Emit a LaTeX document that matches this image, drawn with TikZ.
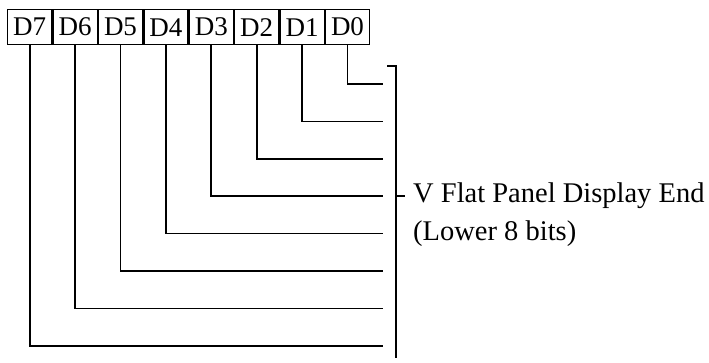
\documentclass[tikz,border=0pt]{standalone}
\usepackage{fontspec}
\setmainfont{Liberation Serif}
\usetikzlibrary{positioning}

\begin{document}
\begin{tikzpicture}[
    x=1pt, y=-1pt,
    bitbox/.style={draw, line width=1.3pt, minimum width=44.1pt, minimum height=35pt, inner sep=0, font=\fontsize{27}{30}\selectfont},
    wire/.style={line width=1.7pt},
    every node/.style={font=\fontsize{28.5}{32}\selectfont}
]
  \useasboundingbox (0,0) rectangle (709,363);

  % Register bits
  \node[bitbox, anchor=north west] (D7) at (7,9) {D7};
  \foreach \b [evaluate=\b as \p using int(\b+1)] in {6,...,0}{
    \node[bitbox, right=0pt of D\p] (D\b) {D\b};
  }

  % Bit wires
  \foreach \b in {0,...,7}{
    \coordinate (E\b) at (383, 84+37.4*\b);
    \draw[wire] (D\b.south) |- (E\b);
  }

  % Bracket
  \coordinate (BT) at (387,66);
  \coordinate (BB) at (396,358);
  \coordinate (BM) at (396,196);
  \coordinate (BK) at (405,196);
  \draw[wire] (BT) -- (BT -| BB) -- (BB);
  \draw[wire] (BM) -- (BK);

  % Labels
  \node[anchor=west, inner sep=0] (title) at (413,196) {V Flat Panel Display End};
  \node[anchor=west, inner sep=0] (note) at (413,234) {(Lower 8 bits)};
\end{tikzpicture}
\end{document}
